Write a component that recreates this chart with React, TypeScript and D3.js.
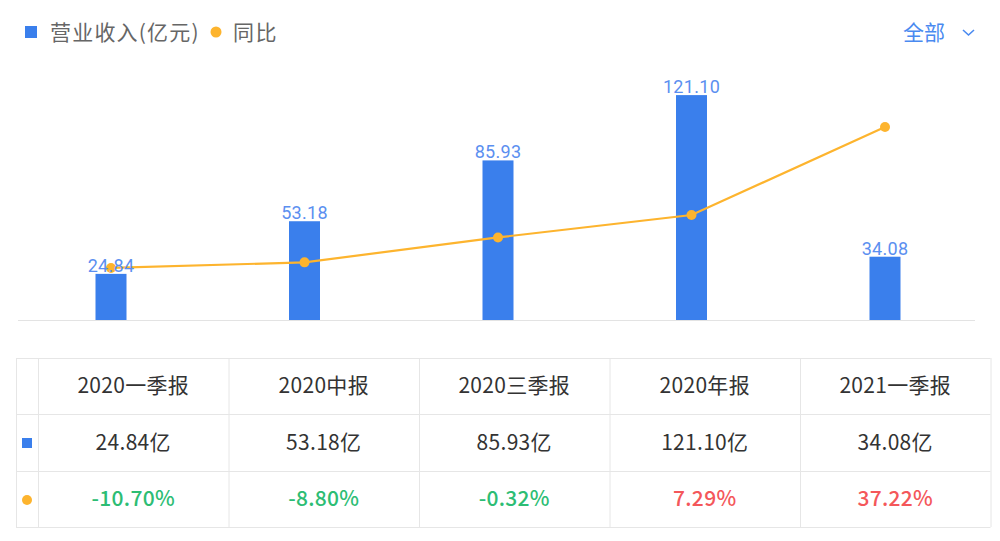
import React from "react";
import * as d3 from "d3";

const categories = ["2020一季报", "2020中报", "2020三季报", "2020年报", "2021一季报"];
const revenue = [24.84, 53.18, 85.93, 121.1, 34.08];
const yoy = [-10.7, -8.8, -0.32, 7.29, 37.22];
const revenueLabels = ["24.84", "53.18", "85.93", "121.10", "34.08"];
const tableRevenue = ["24.84亿", "53.18亿", "85.93亿", "121.10亿", "34.08亿"];
const tableYoy = ["-10.70%", "-8.80%", "-0.32%", "7.29%", "37.22%"];

const W = 1000;
const H = 541;
const BLUE = "#3a7fec";
const ORANGE = "#fdb42e";
const FONT = "'Noto Sans CJK SC', 'Noto Sans', sans-serif";
const NUMFONT = "Roboto, 'Noto Sans CJK SC', sans-serif";

export default function App() {
  const plotTop = 60;
  const plotBottom = 320;
  const x = d3.scaleBand<string>().domain(categories).range([14.25, 981.75]).paddingInner(0).paddingOuter(0);
  const y = d3.scaleLinear().domain([0, 140]).range([plotBottom, plotTop]);
  const y2 = d3.scaleLinear().domain([-28.4, 60]).range([plotBottom, plotTop]);
  const barW = 31;
  const cx = (c: string) => (x(c) as number) + x.bandwidth() / 2;
  const line = d3
    .line<number>()
    .x((_, i) => cx(categories[i]))
    .y((v) => y2(v));

  // table
  const tTop = 358;
  const rowH = [56, 57, 56];
  const tLeft = 16;
  const firstCol = 22;
  const colW = 190.5;
  const tRight = tLeft + firstCol + colW * 5;
  const rowY = [tTop, tTop + rowH[0], tTop + rowH[0] + rowH[1], tTop + rowH[0] + rowH[1] + rowH[2]];
  const gridColor = "#e6e6e6";

  return (
    <svg width={W} height={H} style={{ position: "absolute", left: 0, top: 0, display: "block" }}>
      <rect width={W} height={H} fill="#fff" />
      {/* legend */}
      <rect x={25} y={26} width={12} height={12} fill={BLUE} />
      <text x={50} y={40} fontSize={21} letterSpacing={1.2} fill="#666" fontFamily={FONT}>营业收入(亿元)</text>
      <circle cx={216} cy={32} r={5.5} fill={ORANGE} />
      <text x={233} y={40} fontSize={21} letterSpacing={1.5} fill="#666" fontFamily={FONT}>同比</text>
      <text x={903} y={40} fontSize={21} fill="#4a8af0" fontFamily={FONT}>全部</text>
      <path d="M963,30 L968.5,35 L974,30" fill="none" stroke="#4a8af0" strokeWidth={1.6} />

      {/* baseline */}
      <line x1={18} x2={975} y1={plotBottom + 0.5} y2={plotBottom + 0.5} stroke="#e3e3e3" strokeWidth={1} />

      {/* bars */}
      {categories.map((c, i) => (
        <rect key={c} x={cx(c) - barW / 2} y={y(revenue[i])} width={barW} height={plotBottom - y(revenue[i])} fill={BLUE} />
      ))}
      {/* line */}
      <path d={line(yoy) || ""} fill="none" stroke={ORANGE} strokeWidth={2.2} />
      {yoy.map((v, i) => (
        <circle key={i} cx={cx(categories[i])} cy={y2(v)} r={5} fill={ORANGE} />
      ))}
      {/* bar labels */}
      {categories.map((c, i) => (
        <text key={c} x={cx(c)} y={y(revenue[i]) - 2} textAnchor="middle" fontSize={18} letterSpacing={0.3} fill="#5b8ff0" fontFamily={NUMFONT}>
          {revenueLabels[i]}
        </text>
      ))}

      {/* table */}
      <g>
        {rowY.map((yy, i) => (
          <line key={"h" + i} x1={tLeft} x2={tRight} y1={yy + 0.5} y2={yy + 0.5} stroke={gridColor} />
        ))}
        <line x1={tLeft + 0.5} x2={tLeft + 0.5} y1={tTop} y2={rowY[3]} stroke={gridColor} />
        {d3.range(6).map((k) => {
          const xx = tLeft + firstCol + k * colW;
          return <line key={"v" + k} x1={xx + 0.5} x2={xx + 0.5} y1={tTop} y2={rowY[3]} stroke={gridColor} />;
        })}
        {categories.map((c, i) => {
          const mx = tLeft + firstCol + colW * i + colW / 2;
          const pos = yoy[i] >= 0;
          return (
            <g key={c}>
              <text x={mx} y={rowY[0] + rowH[0] / 2 + 7} textAnchor="middle" fontSize={21} letterSpacing={0.3} fill="#333" fontFamily={FONT}>{c}</text>
              <text x={mx} y={rowY[1] + rowH[1] / 2 + 7} textAnchor="middle" fontSize={21} letterSpacing={0.3} fill="#333" fontFamily={FONT}>{tableRevenue[i]}</text>
              <text x={mx} y={rowY[2] + rowH[2] / 2 + 7} textAnchor="middle" fontSize={21} letterSpacing={0.3} fontWeight={500} fill={pos ? "#f4575a" : "#2dbd74"} fontFamily={FONT}>{tableYoy[i]}</text>
            </g>
          );
        })}
        <rect x={22} y={438} width={10} height={10} fill={BLUE} />
        <circle cx={27} cy={500} r={5} fill={ORANGE} />
      </g>
    </svg>
  );
}
